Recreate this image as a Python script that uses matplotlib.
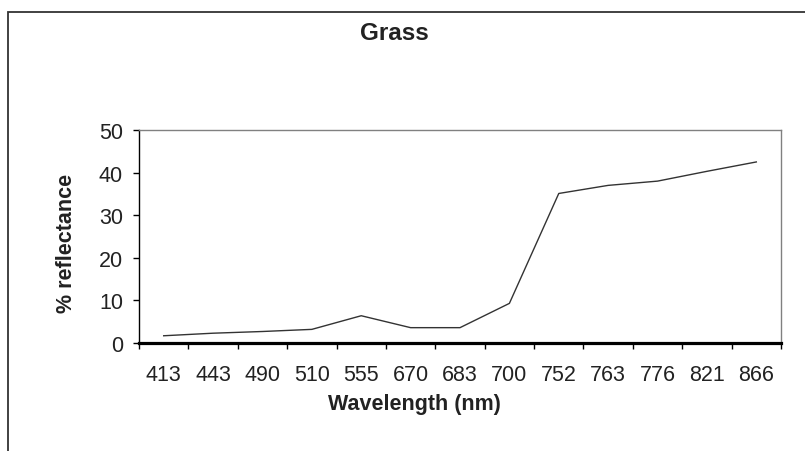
import numpy as np
import matplotlib
matplotlib.use("Agg")
import matplotlib.pyplot as plt
from matplotlib.patches import Rectangle

# data
wavelengths = ["413", "443", "490", "510", "555", "670", "683",
               "700", "752", "763", "776", "821", "866"]
reflectance = [1.7, 2.3, 2.7, 3.2, 6.4, 3.6, 3.6,
               9.3, 35.1, 37.0, 38.0, 40.3, 42.5]
y_ticks = [0, 10, 20, 30, 40, 50]

plt.rcParams['font.family'] = ['Liberation Sans', 'DejaVu Sans']
text_col = "#222222"

fig = plt.figure(figsize=(8.05, 4.52), dpi=100)
W, H = 805, 452

# chart area border (extends beyond right/bottom edge like the reference)
fig.patches.append(Rectangle((8 / W, -0.1), 1.2, 1.1 - 13 / H, transform=fig.transFigure,
                             fill=False, edgecolor="#333333", linewidth=1.3))

ax = fig.add_axes([139 / W, 1 - 344 / H, (781 - 139) / W, (344 - 131) / H])

idx = np.arange(len(wavelengths))
ax.plot(idx, reflectance, color="#333333", linewidth=1.0)

ax.set_xlim(-0.5, len(wavelengths) - 0.5)
ax.set_ylim(0, 50)

# ticks between categories, labels at centres
ax.set_xticks(np.arange(-0.5, len(wavelengths), 1))
ax.set_xticklabels([])
ax.set_xticks(idx, minor=True)
ax.set_xticklabels(wavelengths, minor=True)
ax.tick_params(axis="x", which="major", direction="out", length=4.5, width=1, color="black")
ax.tick_params(axis="x", which="minor", length=0, pad=15, labelsize=15.5, labelcolor=text_col)

ax.set_yticks(y_ticks)
ax.tick_params(axis="y", direction="out", length=4.5, width=1, pad=7,
               labelsize=15.5, labelcolor=text_col, color="black")

ax.spines["top"].set_color("#808080")
ax.spines["right"].set_color("#808080")
ax.spines["top"].set_linewidth(1.0)
ax.spines["right"].set_linewidth(1.0)
ax.spines["left"].set_color("black")
ax.spines["left"].set_linewidth(1.0)
ax.spines["bottom"].set_color("black")
ax.spines["bottom"].set_linewidth(2.3)

fig.text(394 / W, 1 - 33 / H, "Grass", ha="center", va="center",
         fontsize=17.5, fontweight="bold", color=text_col)
fig.text(66.5 / W, 1 - 243 / H, "% reflectance", ha="center", va="center",
         rotation=90, fontsize=15.5, fontweight="bold", color=text_col)
fig.text(414 / W, 1 - 405 / H, "Wavelength (nm)", ha="center", va="center",
         fontsize=15.5, fontweight="bold", color=text_col)

fig.savefig("out.png", dpi=100)
